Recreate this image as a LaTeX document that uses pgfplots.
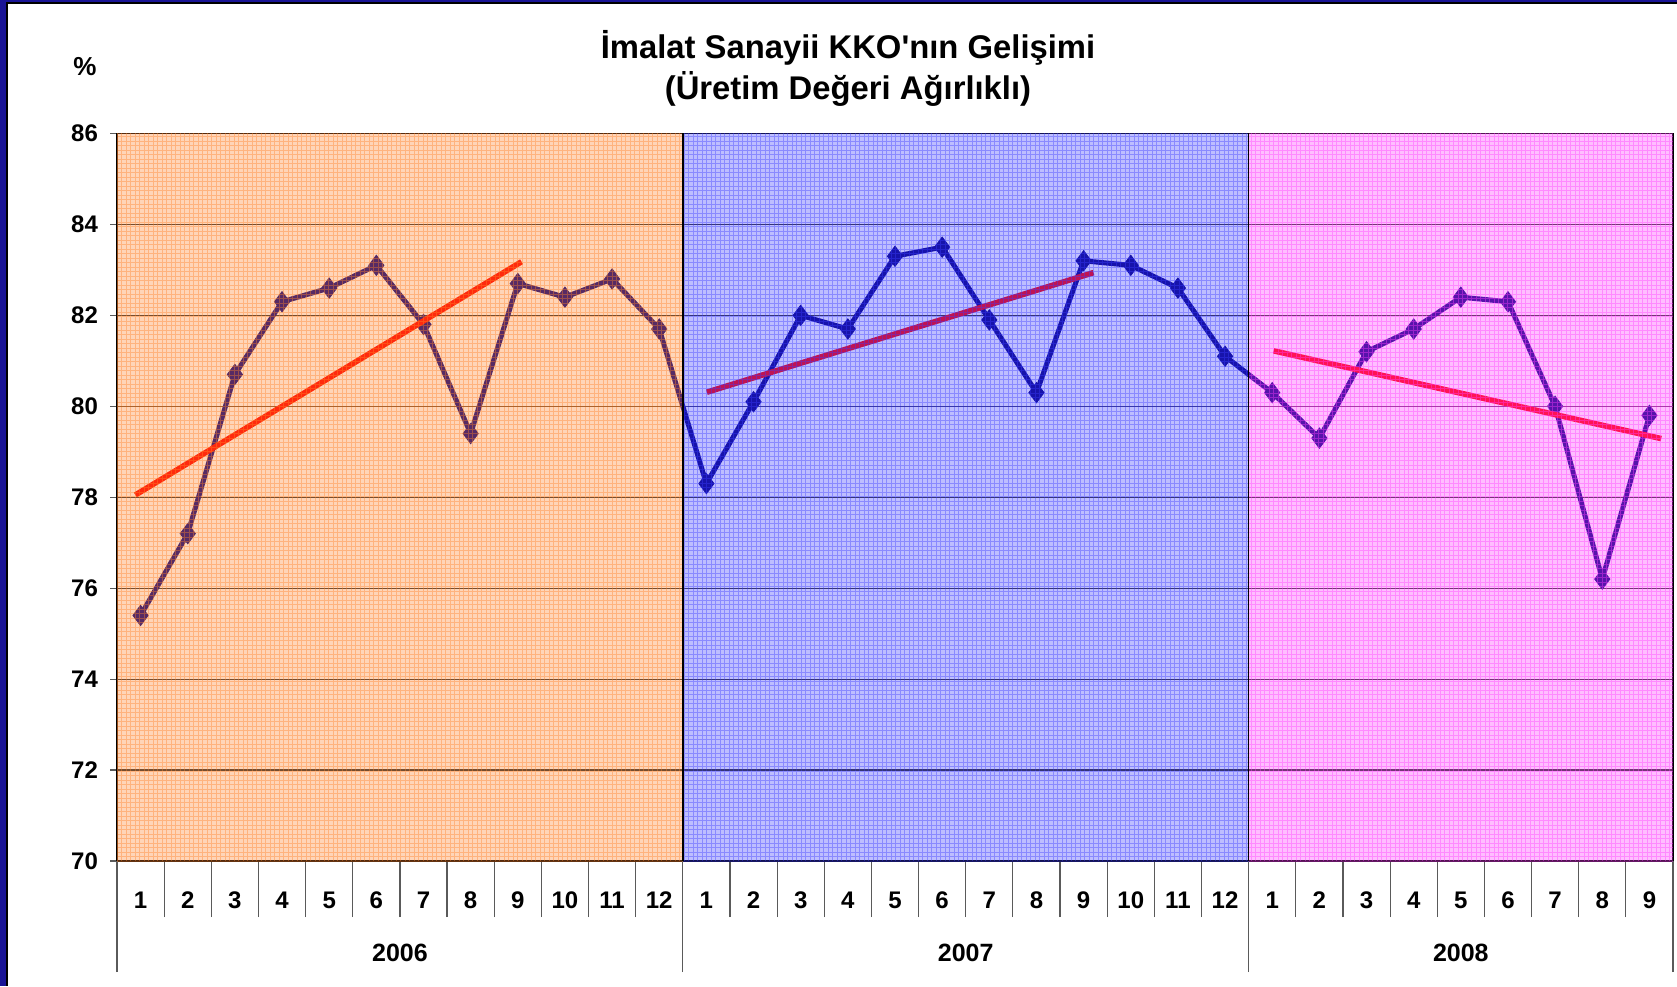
\documentclass[border=0pt]{standalone}
\usepackage{fontspec}
\setmainfont{Liberation Sans}
\usepackage{pgfplots}
\pgfplotsset{compat=1.18}
\definecolor{bordercol}{RGB}{26,20,150}
\definecolor{dataline}{RGB}{5,0,130}
\definecolor{trendred}{RGB}{255,0,0}
\definecolor{ovorange}{RGB}{255,130,40}
\definecolor{ovblue}{RGB}{60,60,255}
\definecolor{ovpink}{RGB}{255,60,255}
\definecolor{tickgray}{RGB}{90,90,90}

\pgfplotstableread{
x y
1 75.4
2 77.2
3 80.7
4 82.3
5 82.6
6 83.1
7 81.8
8 79.4
9 82.7
10 82.4
11 82.8
12 81.7
13 78.3
14 80.1
15 82.0
16 81.7
17 83.3
18 83.5
19 81.9
20 80.3
21 83.2
22 83.1
23 82.6
24 81.1
25 80.3
26 79.3
27 81.2
28 81.7
29 82.4
30 82.3
31 80.0
32 76.2
33 79.8
}\kkodata

\begin{document}
\begin{tikzpicture}
\useasboundingbox (0,0) rectangle (838.5pt,493pt);
\fill[white] (0,0) rectangle (838.5pt,493pt);
\fill[bordercol] (0,0) rectangle (3.5pt,493pt);
\fill[bordercol] (0,491.5pt) rectangle (838.5pt,493pt);
\draw[black,line width=0.6pt] (3.5pt,0) -- (3.5pt,491.5pt) -- (838.5pt,491.5pt);

\node[font=\bfseries\fontsize{16.4}{20.5}\selectfont, align=center] at (424pt,458.75pt)
  {İmalat Sanayii KKO\textquotesingle nın Gelişimi\\(Üretim Değeri Ağırlıklı)};
\node[font=\bfseries\fontsize{13}{15}\selectfont] at (42.5pt,459.5pt) {\%};

\begin{axis}[
  at={(58.5pt,62.5pt)}, anchor=south west,
  width=778pt, height=363.75pt, scale only axis,
  clip mode=individual,
  xmin=0.5, xmax=33.5, ymin=70, ymax=86,
  ytick={70,72,...,86},
  xtick={1,...,33},
  xticklabels={1,2,3,4,5,6,7,8,9,10,11,12,1,2,3,4,5,6,7,8,9,10,11,12,1,2,3,4,5,6,7,8,9},
  minor xtick={0.5,1.5,...,33.5},
  extra x ticks={0.5,12.5,24.5,33.5},
  extra x tick labels={},
  extra x tick style={major tick length=55.5pt, major x tick style={draw=tickgray, line width=0.6pt}},
  tick align=outside,
  tick pos=left,
  major tick length=3.5pt,
  minor tick length=28pt,
  major x tick style={draw=none},
  minor x tick style={draw=tickgray, line width=0.6pt},
  ytick style={draw=tickgray, line width=0.6pt},
  /pgf/number format/assume math mode=true,
  ticklabel style={font=\bfseries\fontsize{12}{14}\selectfont},
  xticklabel style={anchor=center, yshift=-16pt},
  yticklabel style={xshift=-2.5pt},
  ymajorgrids,
  major grid style={black!80, line width=0.6pt},
  axis line style={black, line width=0.7pt},
]
% data (under the tinted overlays)
\addplot[dataline, line width=2.5pt, mark=diamond*, mark size=5pt, mark options={fill=dataline, draw=dataline, line width=0.5pt}] table[x=x, y=y] {\kkodata};
% trend lines
\addplot[trendred, line width=2.8pt, no markers] coordinates {(0.89,78.05) (9.08,83.18)};
\addplot[trendred, line width=2.8pt, no markers] coordinates {(13.01,80.31) (21.21,82.94)};
\addplot[trendred, line width=2.8pt, no markers] coordinates {(25.03,81.22) (33.25,79.29)};
% tinted overlays
\addplot[draw=none, fill=ovorange, fill opacity=0.33] coordinates {(0.5,86) (12.5,86)} \closedcycle;
\addplot[draw=none, fill=ovblue, fill opacity=0.33] coordinates {(12.5,86) (24.5,86)} \closedcycle;
\addplot[draw=none, fill=ovpink, fill opacity=0.33] coordinates {(24.5,86) (33.5,86)} \closedcycle;
% fine texture
\draw[ovorange, draw opacity=0.4, line width=0.35pt, step=2.25pt] (axis cs:0.5,70) grid (axis cs:12.5,86);
\draw[ovblue, draw opacity=0.4, line width=0.35pt, step=2.25pt] (axis cs:12.5,70) grid (axis cs:24.5,86);
\draw[ovpink, draw opacity=0.4, line width=0.35pt, step=2.25pt] (axis cs:24.5,70) grid (axis cs:33.5,86);
% region borders
\draw[black, line width=0.7pt] (axis cs:12.5,70) -- (axis cs:12.5,86);
\draw[black, line width=0.7pt] (axis cs:24.5,70) -- (axis cs:24.5,86);
\coordinate (y06) at (axis cs:6.5,70);
\coordinate (y07) at (axis cs:18.5,70);
\coordinate (y08) at (axis cs:29,70);
\end{axis}
\node[font=\bfseries\fontsize{12.5}{14}\selectfont] at ([yshift=-46pt]y06) {2006};
\node[font=\bfseries\fontsize{12.5}{14}\selectfont] at ([yshift=-46pt]y07) {2007};
\node[font=\bfseries\fontsize{12.5}{14}\selectfont] at ([yshift=-46pt]y08) {2008};
\end{tikzpicture}
\end{document}
